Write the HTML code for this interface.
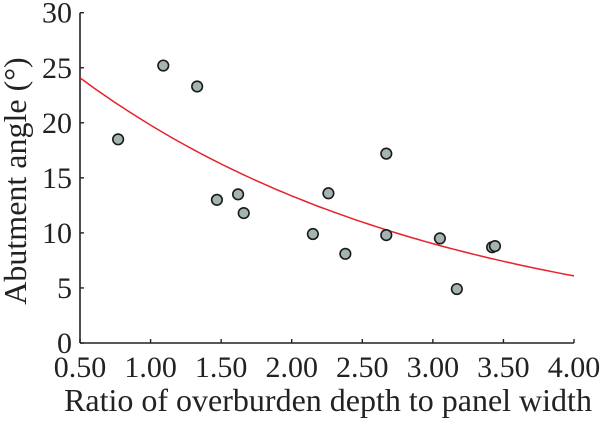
<!DOCTYPE html>
<html><head><meta charset="utf-8"><style>
body{margin:0;background:#fff;}
svg text{font-family:"Liberation Serif",serif;fill:#222;}
</style></head><body>
<svg width="600" height="419" xmlns="http://www.w3.org/2000/svg">
<g id="axes"></g><g id="marks"></g>
</svg>
<script>
const xTicks=[0.5,1,1.5,2,2.5,3,3.5,4];
const xTickLabels=["0.50","1.00","1.50","2.00","2.50","3.00","3.50","4.00"];
const yTicks=[0,5,10,15,20,25,30];
const xValues=[0.77,1.09,1.33,1.47,1.62,1.66,2.15,2.26,2.38,2.67,2.67,3.05,3.17,3.42,3.44];
const yValues=[18.5,25.2,23.3,13.0,13.5,11.8,9.9,13.6,8.1,17.2,9.8,9.5,4.9,8.7,8.8];
const fitA=29.3, fitB=0.3925;
const NS="http://www.w3.org/2000/svg";
const X0=80,X1=574,Y0=343,Y1=12.7;
const sx=v=>X0+(v-0.5)/3.5*(X1-X0);
const sy=v=>Y0-v/30*(Y0-Y1);
const axes=document.getElementById('axes'),marks=document.getElementById('marks');
function mk(t,a,p){const e=document.createElementNS(NS,t);for(const k in a)e.setAttribute(k,a[k]);p.appendChild(e);return e;}
let e=mk('line',{x1:X0,y1:Y1,x2:X0,y2:Y0,stroke:'#222','stroke-width':1.6},axes);


e=mk('line',{x1:X0,y1:Y0,x2:X1,y2:Y0,stroke:'#222','stroke-width':1.6},axes);


xTicks.forEach((v,i)=>{
 mk('line',{x1:sx(v),y1:Y0,x2:sx(v),y2:Y0-4,stroke:'#222','stroke-width':1.4},axes);
 const t=mk('text',{x:sx(v),y:377,'text-anchor':'middle','font-size':30},axes);
 t.textContent=xTickLabels[i];
 
 
});
yTicks.forEach(v=>{
 mk('line',{x1:X0,y1:sy(v),x2:X0+4,y2:sy(v),stroke:'#222','stroke-width':1.4},axes);
 const t=mk('text',{x:72,y:sy(v)+10,'text-anchor':'end','font-size':30},axes);
 t.textContent=v;
 
 
});
let t=mk('text',{x:328,y:411,'text-anchor':'middle','font-size':32},axes);
t.textContent='Ratio of overburden depth to panel width';


t=mk('text',{x:0,y:0,'text-anchor':'middle','font-size':32,transform:'translate(26,181) rotate(-90)'},axes);
t.textContent='Abutment angle (°)';


let d='';for(let x=0.5;x<=4.0001;x+=0.05){d+=(d?'L':'M')+sx(x).toFixed(1)+','+sy(fitA*Math.exp(-fitB*x)).toFixed(1);}
e=mk('path',{d:d,fill:'none',stroke:'#e8202a','stroke-width':1.5},marks);


xValues.forEach((x,i)=>{
 const c=mk('circle',{cx:sx(x),cy:sy(yValues[i]),r:5.3,fill:'#a3b4b2',stroke:'#1a1a1a','stroke-width':1.6},marks);
 
 
});
</script>
</body></html>
